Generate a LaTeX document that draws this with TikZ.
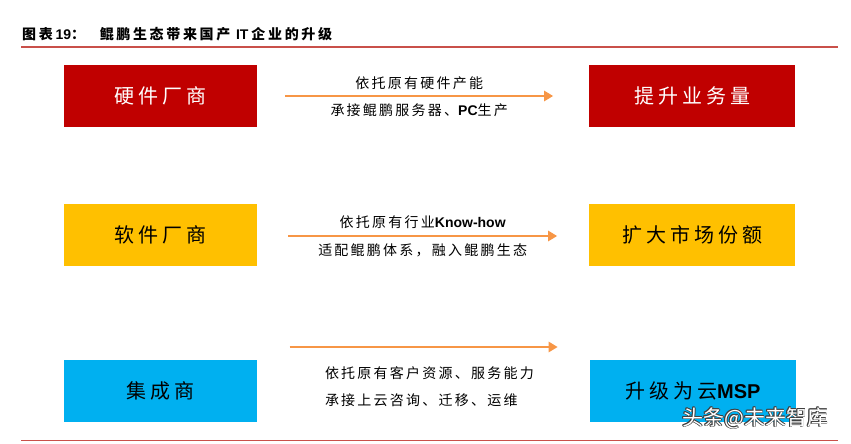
\documentclass[tikz,border=0pt]{standalone}
\usepackage{fontspec}
\usetikzlibrary{arrows.meta,positioning}

\newfontfamily\cjk{Noto Sans CJK SC}
\newfontfamily\cjkbox[LetterSpace=20]{Noto Sans CJK SC}
\newfontfamily\cjknote[LetterSpace=16]{Noto Sans CJK SC}
\newfontfamily\cjktitle[LetterSpace=19]{Noto Sans CJK SC}
\newfontfamily\latb{Liberation Sans}
\newcommand\lt[1]{{\latb\bfseries #1}}

\definecolor{hwred}{HTML}{C00000}
\definecolor{swgold}{HTML}{FFC000}
\definecolor{sisky}{HTML}{00B0F0}
\definecolor{flowor}{HTML}{F79646}
\definecolor{ruler}{HTML}{C9504A}

\tikzset{
  firm/.style={minimum width=193pt,minimum height=62pt,inner sep=0pt,
    font=\cjkbox\fontsize{20}{24}\selectfont},
  gain/.style={firm,minimum width=206pt},
  note/.style={inner sep=0pt,text=black,font=\cjknote\fontsize{14}{16}\selectfont},
  flow/.style={flowor,line width=2.6pt,-{Triangle[length=9pt,width=10pt]}}
}

\begin{document}
\begin{tikzpicture}[x=1pt,y=-1pt]
  \useasboundingbox (0,0) rectangle (851,444);

  % title and rules
  \node[anchor=west,inner sep=0pt,font=\cjktitle\fontsize{14}{16}\selectfont] (title) at (22,34)
    {\textbf{图表}\lt{19}\textbf{：}\hspace{12pt}\textbf{鲲鹏生态带来国产}\hspace{3pt}\lt{IT}\hspace{3pt}\textbf{企业的升级}};
  \draw[ruler,line width=1.6pt] (21,47) -- (838,47);
  \draw[ruler,line width=1.6pt] (21,440.5) -- (838,440.5);

  % vendors
  \node[firm,fill=hwred,text=white] (hw) at (160.5,96) {硬件厂商};
  \node[firm,fill=swgold] (sw) at (160.5,234.5) {软件厂商};
  \node[firm,fill=sisky] (si) at (160,391) {集成商};

  % outcomes
  \node[gain,fill=hwred,text=white,right=332pt of hw] (vol) {提升业务量};
  \node[gain,fill=swgold,right=332pt of sw] (share) {扩大市场份额};
  \node[gain,fill=sisky,right=333pt of si] (msp) {升级为云\lt{MSP}};

  % arrows with notes
  \draw[flow] ([xshift=28pt]hw.east) -- ([xshift=-36pt]vol.west)
    node[note,midway,yshift=13pt] (hwa) {依托原有硬件产能}
    node[note,midway,yshift=-14pt] (hwb) {承接鲲鹏服务器、\lt{PC}生产};
  \draw[flow] ([xshift=31pt,yshift=-1.5pt]sw.east) -- ([xshift=-32pt,yshift=-1.5pt]share.west)
    node[note,midway,yshift=14pt] (swa) {依托原有行业\lt{Know-how}}
    node[note,midway,yshift=-14pt] (swb) {适配鲲鹏体系，融入鲲鹏生态};
  \draw[flow] ([xshift=33pt,yshift=44pt]si.east) -- ([xshift=-32pt,yshift=44pt]msp.west)
    node[note,pos=0,anchor=west,xshift=34pt,yshift=-26pt] (sia) {依托原有客户资源、服务能力}
    node[note,pos=0,anchor=west,xshift=34pt,yshift=-53pt] (sib) {承接上云咨询、迁移、运维};

  % watermark
  \foreach \dx/\dy [count=\i] in {-0.8/0,0.8/0,0/-0.8,0/0.8,-0.6/-0.6,0.6/0.6,-0.6/0.6,0.6/-0.6}
    \node[anchor=west,inner sep=0pt,font=\cjk\fontsize{21}{24}\selectfont,text=black!75] (wm\i)
      at (682+\dx,418+\dy) {头条@未来智库};
  \node[anchor=west,inner sep=0pt,font=\cjk\fontsize{21}{24}\selectfont,text=white] (wm)
    at (682,418) {头条@未来智库};
\end{tikzpicture}
\end{document}
